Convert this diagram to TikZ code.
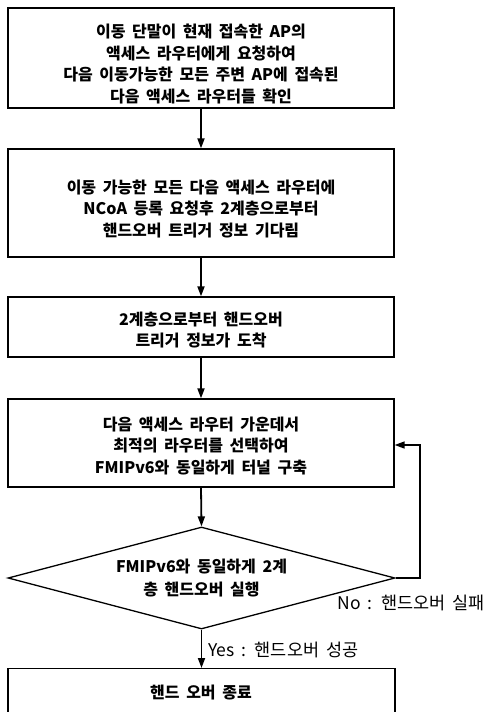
\documentclass[tikz,border=0pt]{standalone}
\usepackage{fontspec}
\setmainfont{Noto Sans CJK KR}[WordSpace=1.8]
\usetikzlibrary{shapes.geometric,arrows.meta}
\begin{document}
\begin{tikzpicture}[x=1pt,y=-1pt,
  box/.style={draw,line width=1.3pt,minimum width=386pt,inner sep=0pt},
  txt/.style={align=center,inner sep=0pt,font=\fontsize{16}{21.5}\selectfont\bfseries},
  dec/.style={draw,diamond,line width=1.3pt,aspect=3.8,minimum width=387pt,minimum height=102pt,
    inner sep=0pt,align=center,font=\fontsize{16}{22.5}\selectfont\bfseries},
  flow/.style={line width=1.8pt,-{Triangle[length=10pt,width=7pt]}},
  lbl/.style={inner sep=0pt,font=\fontsize{17.5}{18}\selectfont}]
\useasboundingbox (0,0) rectangle (485,712);
\node[box,minimum height=100pt,label={[txt,yshift=-6pt]center:{이동 단말이 현재 접속한 AP의\\액세스 라우터에게 요청하여\\다음 이동가능한 모든 주변 AP에 접속된\\다음 액세스 라우터들 확인}}] (b1) at (201,58) {};
\node[box,minimum height=108pt,label={[txt,yshift=-6pt]center:{이동 가능한 모든 다음 액세스 라우터에\\NCoA 등록 요청후 2계층으로부터\\핸드오버 트리거 정보 기다림}}] (b2) at (201,203) {};
\node[box,minimum height=60pt,label={[txt,yshift=-3pt]center:{2계층으로부터 핸드오버\\트리거 정보가 도착}}] (b3) at (201,327) {};
\node[box,minimum height=88pt,label={[txt,yshift=-3pt]center:{다음 액세스 라우터 가운데서\\최적의 라우터를 선택하여\\FMIPv6와 동일하게 터널 구축}}] (b4) at (201,443) {};
\node[dec] (d) at (201.5,578)
  {FMIPv6와 동일하게 2계\\층 핸드오버 실행};
\node[box,minimum width=387pt,minimum height=100pt,anchor=north] (b5) at (201.5,668) {};
\node[txt] (t5) at (201,693) {핸드 오버 종료};
\coordinate (fb) at (420,445);
\draw[flow] (b1.south) -- (b2.north);
\draw[flow] (b2.south) -- (b3.north);
\draw[flow] (b3.south) -- (b4.north);
\draw[flow] (b4.south) -- (d.north);
\draw[flow] (d.south) -- (b5.north);
\draw[flow,line width=1.5pt] (d.east) -| (fb) -- (b4.east |- fb);
\node[lbl,anchor=east] (no) at (485,603) {No : 핸드오버 실패};
\node[lbl,anchor=west] (yes) at (208,650) {Yes : 핸드오버 성공};
\end{tikzpicture}
\end{document}
